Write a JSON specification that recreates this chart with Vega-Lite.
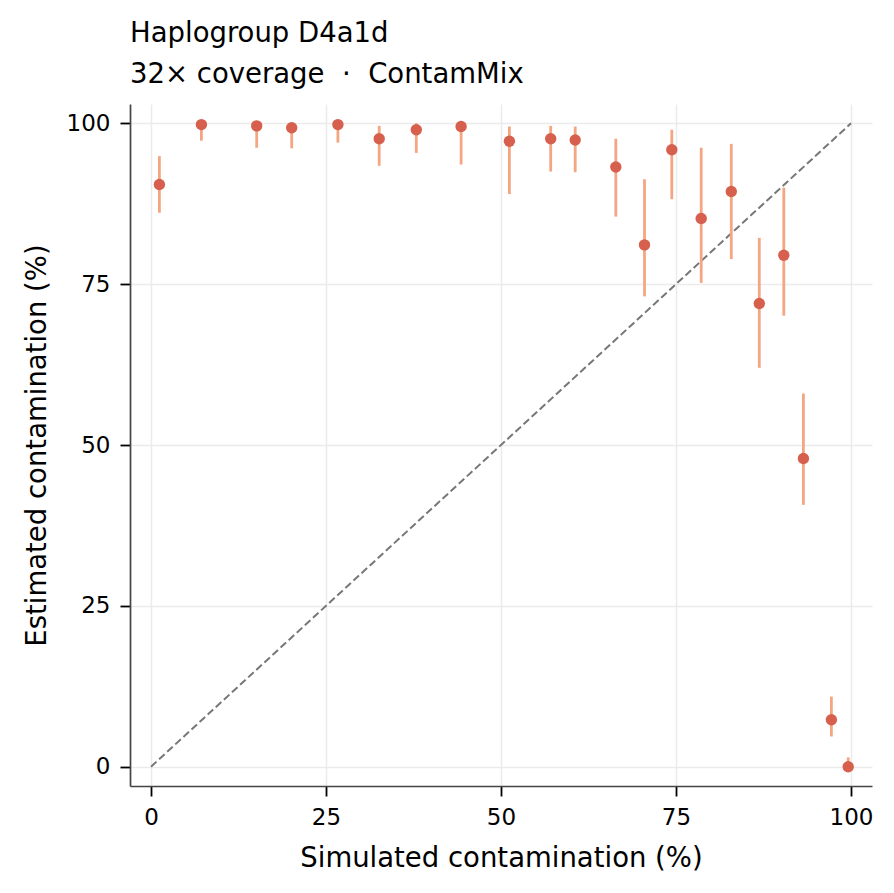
{
  "$schema": "https://vega.github.io/schema/vega-lite/v6.json",
  "autosize": "none",
  "width": 742,
  "height": 682,
  "padding": {"left": 130, "top": 104, "right": 22, "bottom": 107},
  "background": "white",
  "title": {
    "text": "Haplogroup D4a1d",
    "subtitle": "32\u00d7 coverage \u00a0\u00b7\u00a0 ContamMix",
    "anchor": "start",
    "frame": "group",
    "font": "DejaVu Sans",
    "fontSize": 27.5,
    "fontWeight": "normal",
    "color": "black",
    "subtitleFont": "DejaVu Sans",
    "subtitleFontSize": 27.5,
    "subtitleColor": "black",
    "subtitlePadding": 13,
    "offset": 16
  },
  "datasets": {
    "estimates": [
      {"sim": 1.2, "est": 90.5, "lo": 86.1, "hi": 94.9},
      {"sim": 7.2, "est": 99.8, "lo": 97.3, "hi": 100},
      {"sim": 15.1, "est": 99.6, "lo": 96.2, "hi": 100},
      {"sim": 20.1, "est": 99.3, "lo": 96.1, "hi": 100},
      {"sim": 26.7, "est": 99.8, "lo": 97.0, "hi": 100},
      {"sim": 32.6, "est": 97.6, "lo": 93.4, "hi": 99.6},
      {"sim": 37.9, "est": 99.0, "lo": 95.4, "hi": 100},
      {"sim": 44.3, "est": 99.5, "lo": 93.6, "hi": 100},
      {"sim": 51.2, "est": 97.2, "lo": 89.0, "hi": 99.5},
      {"sim": 57.1, "est": 97.6, "lo": 92.5, "hi": 99.6},
      {"sim": 60.6, "est": 97.4, "lo": 92.4, "hi": 99.5},
      {"sim": 66.4, "est": 93.2, "lo": 85.5, "hi": 97.6},
      {"sim": 70.5, "est": 81.1, "lo": 73.1, "hi": 91.3},
      {"sim": 74.4, "est": 95.9, "lo": 88.2, "hi": 99.0},
      {"sim": 78.6, "est": 85.2, "lo": 75.2, "hi": 96.2},
      {"sim": 82.9, "est": 89.4, "lo": 78.9, "hi": 96.8},
      {"sim": 86.9, "est": 72.0, "lo": 62.0, "hi": 82.2},
      {"sim": 90.4, "est": 79.5, "lo": 70.1, "hi": 90.0},
      {"sim": 93.2, "est": 47.9, "lo": 40.7, "hi": 58.0},
      {"sim": 97.2, "est": 7.3, "lo": 4.7, "hi": 10.9},
      {"sim": 99.6, "est": 0.0, "lo": 0.0, "hi": 1.45}
    ],
    "identity": [
      {"sim": 0, "est": 0},
      {"sim": 100, "est": 100}
    ]
  },
  "encoding": {
    "x": {
      "field": "sim",
      "type": "quantitative",
      "title": "Simulated contamination (%)",
      "scale": {"domain": [-3, 103], "nice": false, "zero": false},
      "axis": {"values": [0, 25, 50, 75, 100]}
    },
    "y": {
      "field": "est",
      "type": "quantitative",
      "title": "Estimated contamination (%)",
      "scale": {"domain": [-3, 103], "nice": false, "zero": false},
      "axis": {"values": [0, 25, 50, 75, 100]}
    }
  },
  "layer": [
    {
      "data": {"name": "identity"},
      "mark": {"type": "line", "color": "#777777", "strokeWidth": 2, "strokeDash": [7.5, 3.5], "clip": true},
      "encoding": {}
    },
    {
      "data": {"name": "estimates"},
      "mark": {"type": "rule", "color": "#f4a582", "strokeWidth": 2.8},
      "encoding": {
        "y": {"field": "lo", "type": "quantitative"},
        "y2": {"field": "hi"}
      }
    },
    {
      "data": {"name": "estimates"},
      "mark": {"type": "circle", "color": "#d6604d", "opacity": 1, "size": 130}
    }
  ],
  "config": {
    "view": {"stroke": null},
    "font": "DejaVu Sans",
    "axis": {
      "labelFont": "DejaVu Sans",
      "labelFontSize": 23,
      "labelColor": "black",
      "labelPadding": 10,
      "titleFont": "DejaVu Sans",
      "titleFontSize": 27.5,
      "titleFontWeight": "normal",
      "titleColor": "black",
      "domainColor": "#444444",
      "domainWidth": 1.7,
      "tickColor": "black",
      "tickWidth": 1.8,
      "tickSize": 10,
      "gridColor": "#ebebeb",
      "gridWidth": 1.5
    },
    "axisX": {"titlePadding": 15},
    "axisY": {"titlePadding": 15}
  }
}
